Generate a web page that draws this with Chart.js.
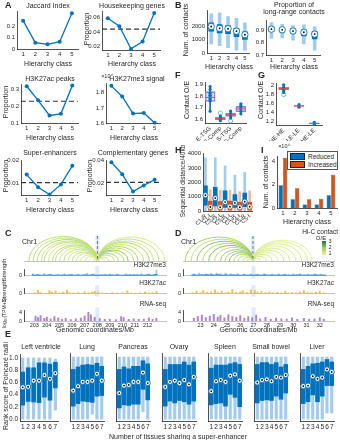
<!DOCTYPE html>
<html>
<head>
<meta charset="utf-8">
<title>Hierarchy classes figure</title>
<script src="https://cdn.jsdelivr.net/npm/chart.js@4.4.1/dist/chart.umd.min.js"></script>
<style>
  html, body { margin: 0; padding: 0; background: #fff; }
  body { position: relative; width: 340px; height: 440px; overflow: hidden; font-family: "Liberation Sans", Arial, sans-serif; color: #262626; }
  canvas { position: absolute; }
  .t { position: absolute; white-space: nowrap; line-height: 1; }
  .lg { position: absolute; border: 0.8px solid #555; background: #fff; font-size: 6.5px; }
  .lg div { display: flex; align-items: center; height: 8px; margin-left: 2px; }
  .lg span { display: inline-block; width: 13px; height: 5px; margin-right: 3px; border: 0.5px solid #222; }
</style>
</head>
<body>
<script>
// ---------- A: line panels ----------
const hierClass = ['1', '2', '3', '4', '5'];
const jaccard = [0.25, 0.056, 0.041, 0.064, 0.315];
const hkProp = [0.059, 0.048, 0.017, 0.027, 0.066];
const hkBase = 0.044;
const acProp = [0.32, 0.236, 0.145, 0.155, 0.325];
const acBase = 0.23;
const me3Sig = [1.845, 1.775, 1.662, 1.666, 1.601];   // x 10^4
const seProp = [0.0139, 0.0084, 0.0052, 0.0096, 0.0177];
const seBase = 0.0104;
const compProp = [0.0385, 0.028, 0.0125, 0.018, 0.023];
const compBase = 0.0207;

// ---------- B: box plots ----------
const cntLo = [690, 550, 410, 210, 200];
const cntQ1 = [1655, 1520, 1450, 1240, 1030];
const cntMed = [2000, 1860, 1830, 1650, 1380];
const cntQ3 = [2275, 2140, 2070, 1860, 1590];
const cntHi = [2965, 3030, 2750, 2620, 2275];
const lrLo = [0.835, 0.84, 0.82, 0.79, 0.74];
const lrQ1 = [0.89, 0.885, 0.875, 0.855, 0.83];
const lrMed = [0.91, 0.905, 0.895, 0.885, 0.87];
const lrQ3 = [0.93, 0.92, 0.915, 0.905, 0.89];
const lrHi = [0.964, 0.95, 0.94, 0.945, 0.93];

// ---------- F / G ----------
const fCats = ['E-TSG', 'E-Comp', 'S-TSG', 'S-Comp'];
const fLo = [1.67, 1.588, 1.612, 1.648];
const fQ1 = [1.755, 1.595, 1.625, 1.665];
const fMed = [1.79, 1.605, 1.64, 1.69];
const fQ3 = [1.84, 1.618, 1.655, 1.712];
const fHi = [1.885, 1.628, 1.672, 1.735];
const fPtCat = [0, 0, 0, 0, 0, 0, 0, 0, 1, 1, 1, 1, 1, 2, 2, 2, 2, 2, 3, 3, 3, 3, 3, 3];
const fPtVal = [1.885, 1.86, 1.83, 1.81, 1.79, 1.775, 1.76, 1.67, 1.588, 1.6, 1.607, 1.615, 1.628,
  1.612, 1.63, 1.64, 1.65, 1.672, 1.648, 1.67, 1.69, 1.7, 1.72, 1.735];
const fOutCat = [0, 0, 1, 2];
const fOutVal = [1.815, 1.795, 1.655, 1.585];

const gCats = ['HE-HE', 'LE-LE', 'HE-LE'];
const gLo = [1.85, 1.52, 1.13];
const gQ1 = [1.905, 1.535, 1.145];
const gMed = [1.935, 1.545, 1.155];
const gQ3 = [1.965, 1.56, 1.17];
const gHi = [2.02, 1.575, 1.18];
const gPtCat = [0, 0, 0, 0, 0, 1, 1, 1, 2, 2, 2];
const gPtVal = [2.02, 1.96, 1.93, 1.9, 1.85, 1.52, 1.55, 1.575, 1.13, 1.155, 1.18];
const gOutCat = [0];
const gOutVal = [1.8];

// ---------- H / I ----------
const hCats = ['C1-R', 'C1-I', 'C2-R', 'C2-I', 'C3-R', 'C3-I', 'C4-R', 'C4-I', 'C5-R', 'C5-I'];
const redLo = [0, 0, 0, 0, 0];
const redQ1 = [400, 350, 250, 250, 300];
const redMed = [1100, 900, 620, 560, 650];
const redQ3 = [1750, 1650, 1400, 1150, 1250];
const redHi = [3700, 3700, 3150, 2500, 2700];
const incLo = [0, 0, 0, 0, 0];
const incQ1 = [60, 60, 60, 60, 60];
const incMed = [280, 260, 300, 260, 300];
const incQ3 = [700, 650, 700, 600, 600];
const incHi = [1500, 1450, 1450, 1350, 1400];
const iReduced = [1.95, 0.75, 0.3, 0.3, 1.1];     // x 10^4
const iIncreased = [4.3, 1.7, 0.75, 0.8, 2.85];

// ---------- C / D tracks ----------
const cTicks = [203, 204, 205, 206, 207, 208, 209, 210, 211, 212];
const dTicks = [23, 24, 25, 26, 27, 28, 29, 30, 31, 32];
const cAnchor = 208, dAnchor = 27;
const cArcLeft = [203.1, 203.4, 203.7, 204.0, 204.2, 204.5, 204.8, 205.0, 205.3, 205.6, 205.9, 206.2, 206.5, 206.8, 207.1, 207.4, 207.7];
const cArcLeftOE = [1.8, 1.6, 1.9, 1.5, 1.7, 1.4, 1.8, 1.6, 1.5, 1.7, 1.4, 1.6, 1.5, 1.4, 1.3, 1.2, 1.2];
const cArcRight = [208.5, 208.8, 209.2, 209.5, 209.9, 210.2, 210.6, 210.9, 211.3, 211.7, 212.0, 212.4, 212.8];
const cArcRightOE = [1.3, 1.5, 1.6, 2.0, 1.8, 2.2, 1.7, 2.0, 1.6, 1.9, 1.5, 1.6, 1.3];
const dArcLeft = [22.4, 22.8, 23.2, 23.6, 24.0, 24.4, 24.8, 25.1, 25.4, 25.7, 26.0, 26.3, 26.6];
const dArcLeftOE = [2.0, 1.7, 2.2, 1.9, 2.3, 1.8, 2.1, 1.9, 2.2, 1.8, 1.7, 1.6, 1.5];
const dArcRight = [27.5, 27.9, 28.3, 28.7, 29.1, 29.5, 29.9, 30.3, 30.7, 31.0];
const dArcRightOE = [1.4, 1.3, 1.5, 1.2, 1.4, 1.3, 1.2, 1.3, 1.2, 1.1];

// H3K27me3 background level, one value per 0.2 Mb bin
const cMe3Start = 202.8, dMe3Start = 22.3, me3Bin = 0.2;
const cMe3Base = [700, 500, 650, 480, 420, 600, 520, 800, 560, 450, 640, 400, 520, 610, 470, 760, 540, 430, 620, 500,
  530, 680, 450, 580, 820, 510, 460, 600, 420, 680, 560, 490, 640, 440, 720, 520, 400, 600, 540, 660, 470, 560, 700,
  430, 610, 520, 800, 610, 500, 950, 720];
const dMe3Base = [520, 700, 480, 600, 820, 560, 900, 640, 720, 500, 860, 610, 540, 700, 480, 640, 760, 520, 600, 450,
  700, 560, 620, 480, 540, 660, 500, 580, 720, 470, 560, 640, 520, 600, 480, 690, 540, 620, 500, 580, 740, 520, 600,
  560, 480, 640, 520, 700, 560, 600, 480, 540];
const cMe3Pos = [202.9, 203.3, 203.8, 204.3, 204.9, 205.4, 206.0, 206.5, 207.2, 207.7, 208.4, 209.0, 209.6, 210.3, 210.9, 211.5, 212.1, 212.7];
const cMe3Val = [1400, 1100, 1700, 1300, 1000, 1500, 1200, 1300, 1900, 1400, 1000, 1500, 1200, 1400, 1100, 1600, 1300, 4300];
const dMe3Pos = [22.5, 22.9, 23.4, 23.8, 24.2, 24.5, 24.9, 25.3, 25.8, 26.3, 26.8, 27.3, 27.8, 28.4, 28.9, 29.4, 30.0, 30.5, 31.1, 31.6, 32.1];
const dMe3Val = [1500, 2000, 1300, 1800, 2100, 1600, 2000, 1400, 1700, 1300, 1500, 1200, 1600, 1300, 1500, 1200, 1400, 1600, 1300, 1500, 1200];

const cAcPos = [203.05, 203.3, 203.5, 203.9, 204.2, 204.4, 204.7, 205.0, 205.3, 205.6, 205.8, 206.1, 206.5, 206.8, 207.0, 207.3,
  207.6, 207.8, 208.1, 208.4, 208.8, 209.2, 209.6, 210.0, 210.4, 210.7, 211.0, 211.4, 211.8, 212.1, 212.4, 212.7];
const cAcVal = [15000, 62000, 20000, 12000, 58000, 30000, 48000, 10000, 32000, 62000, 18000, 12000, 22000, 9000, 35000, 14000,
  25000, 42000, 30000, 12000, 8000, 20000, 10000, 15000, 52000, 12000, 9000, 18000, 28000, 11000, 22000, 45000];
const dAcPos = [22.4, 22.7, 23.0, 23.2, 23.5, 23.8, 24.1, 24.3, 24.6, 24.9, 25.1, 25.4, 25.7, 26.0, 26.2, 26.5, 26.8, 27.1,
  27.3, 27.6, 27.9, 28.2, 28.5, 28.8, 29.1, 29.4, 29.6, 29.9, 30.2, 30.5, 30.8, 31.1, 31.4, 31.7, 32.0, 32.3];
const dAcVal = [20000, 45000, 15000, 60000, 25000, 35000, 70000, 22000, 50000, 18000, 30000, 80000, 26000, 40000, 55000, 20000,
  70000, 60000, 28000, 45000, 20000, 35000, 15000, 25000, 18000, 50000, 12000, 22000, 16000, 30000, 60000, 20000, 14000, 25000, 45000, 18000];

const cRnaPos = [203.1, 203.3, 203.5, 203.8, 204.0, 204.3, 204.6, 204.9, 205.2, 205.5, 205.9, 206.3, 206.7, 207.0, 207.3,
  207.5, 207.8, 208.2, 208.6, 209.0, 209.5, 209.9, 210.1, 210.5, 210.9, 211.3, 211.7, 212.1, 212.4, 212.7];
const cRnaVal = [2.2, 1.5, 2.4, 1.2, 1.8, 1.0, 2.0, 1.4, 0.8, 1.2, 0.6, 1.0, 1.3, 2.2, 3.9, 2.8, 1.6, 1.1, 0.7, 0.9, 0.6,
  2.0, 1.5, 0.8, 1.0, 0.7, 0.9, 1.4, 0.8, 1.2];
const dRnaPos = [22.5, 22.8, 23.1, 23.4, 23.7, 24.0, 24.3, 24.5, 24.8, 25.1, 25.4, 25.7, 26.0, 26.3, 26.6, 26.9, 27.2,
  27.5, 27.9, 28.3, 28.7, 29.1, 29.5, 29.9, 30.3, 30.8, 31.2, 31.6, 32.0, 32.3];
const dRnaVal = [1.2, 2.0, 2.6, 1.5, 2.2, 3.0, 1.8, 2.5, 1.4, 2.8, 2.0, 1.6, 2.4, 1.2, 2.0, 1.5, 2.6, 1.0, 1.6, 0.8, 1.3,
  1.0, 0.9, 1.4, 0.7, 1.2, 0.8, 1.0, 1.5, 0.9];

// ---------- E: rank score per tissue ----------
const tissues = ['Left ventricle', 'Lung', 'Pancreas', 'Ovary', 'Spleen', 'Small bowel', 'Liver'];
const nShared = ['1', '2', '3', '4', '5', '6', '7'];
const eMed = [
  [0.52, 0.53, 0.63, 0.63, 0.72, 0.66, 0.75],
  [0.46, 0.53, 0.60, 0.60, 0.62, 0.73, 0.62],
  [0.42, 0.54, 0.55, 0.60, 0.60, 0.75, 0.58],
  [0.52, 0.60, 0.62, 0.58, 0.63, 0.56, 0.68],
  [0.45, 0.61, 0.63, 0.60, 0.70, 0.72, 0.62],
  [0.59, 0.63, 0.64, 0.61, 0.68, 0.67, 0.71],
  [0.53, 0.54, 0.69, 0.65, 0.67, 0.80, 0.76]];
const eQ1 = [
  [0.23, 0.29, 0.28, 0.27, 0.36, 0.31, 0.51],
  [0.21, 0.25, 0.29, 0.28, 0.27, 0.37, 0.38],
  [0.18, 0.23, 0.22, 0.24, 0.24, 0.48, 0.31],
  [0.21, 0.29, 0.26, 0.30, 0.28, 0.24, 0.29],
  [0.23, 0.25, 0.26, 0.21, 0.40, 0.35, 0.20],
  [0.26, 0.30, 0.31, 0.30, 0.37, 0.32, 0.42],
  [0.25, 0.28, 0.39, 0.28, 0.37, 0.54, 0.54]];
const eQ3 = [
  [0.77, 0.84, 0.84, 0.92, 0.92, 0.90, 0.93],
  [0.80, 0.84, 0.87, 0.88, 0.87, 0.90, 0.85],
  [0.80, 0.84, 0.81, 0.85, 0.85, 0.94, 0.89],
  [0.80, 0.88, 0.88, 0.88, 0.92, 0.87, 0.92],
  [0.82, 0.87, 0.87, 0.87, 0.89, 0.91, 0.88],
  [0.88, 0.91, 0.91, 0.88, 0.91, 0.84, 0.88],
  [0.80, 0.85, 0.89, 0.90, 0.92, 0.96, 0.92]];
const eLo = [
  [0, 0, 0, 0, 0, 0, 0.15],
  [0, 0, 0, 0, 0.08, 0, 0],
  [0, 0, 0, 0, 0, 0.12, 0],
  [0, 0, 0, 0, 0, 0, 0],
  [0, 0, 0, 0, 0, 0, 0],
  [0, 0, 0, 0, 0, 0, 0],
  [0, 0, 0, 0, 0, 0.1, 0.1]];
const eHi = [
  [1, 1, 1, 1, 1, 1, 0.98],
  [1, 1, 1, 1, 1, 1, 1],
  [1, 1, 1, 1, 1, 1, 1],
  [1, 1, 1, 1, 1, 1, 1],
  [1, 1, 1, 1, 1, 1, 1],
  [1, 1, 1, 1, 1, 1, 1],
  [1, 1, 1, 1, 1, 1, 1]];

// ---------- styling ----------
const AX = '#262626';
const BLUE = '#0072BD', LBLUE = '#a3cbec', ORANGE = '#D95319', LORANGE = '#f2b9a0';

Chart.defaults.font.family = '"Liberation Sans", Arial, sans-serif';
Chart.defaults.font.size = 6;
Chart.defaults.color = AX;

function text(s, x, y, o = {}) {
  const d = document.createElement('div');
  d.className = 't';
  d.textContent = s;
  d.style.left = x + 'px';
  d.style.top = y + 'px';
  d.style.fontSize = (o.size || 7) + 'px';
  if (o.bold) d.style.fontWeight = 'bold';
  const ax = o.align === 'left' ? '0' : o.align === 'right' ? '-100%' : '-50%';
  d.style.transform = `translate(${ax}, -50%)` + (o.rot ? ` rotate(${o.rot}deg)` : '');
  document.body.appendChild(d);
  return d;
}

// canvas sized so the chart area lands on the given rect
function place(x0, y0, x1, y1, m) {
  const c = document.createElement('canvas');
  const w = Math.round(x1 - x0 + m.l + m.r);
  const h = Math.round(y1 - y0 + m.t + m.b);
  c.width = w; c.height = h;
  c.style.left = Math.round(x0 - m.l) + 'px';
  c.style.top = Math.round(y0 - m.t) + 'px';
  document.body.appendChild(c);
  return c;
}

function opts(m, scales) {
  return {
    responsive: false, animation: false, events: [],
    layout: { padding: { top: m.t, right: m.r, left: m.pl || 0, bottom: 0 } },
    scales,
    plugins: { legend: { display: false }, tooltip: { enabled: false } }
  };
}

function catX(m, show = true, rot = 0, size = 6) {
  return {
    type: 'category', offset: true,
    afterFit: s => { s.height = m.b; },
    grid: { display: false, drawTicks: false },
    border: { display: true, color: AX, width: 0.8 },
    ticks: { display: show, padding: 2, autoSkip: false, maxRotation: rot, minRotation: rot, font: { size } }
  };
}

const fmtNum = v => String(+(+v).toFixed(4));
function linY(m, min, max, ticks, show = true, fmt = fmtNum, size = 6) {
  return {
    type: 'linear', min, max,
    afterFit: s => { s.width = m.l; },
    afterBuildTicks: s => { s.ticks = ticks.map(v => ({ value: v })); },
    grid: { display: false, drawTicks: false },
    border: { display: true, color: AX, width: 0.8 },
    ticks: { display: show, padding: 2, font: { size }, callback: fmt }
  };
}

function refLine(v) {
  return {
    id: 'refLine',
    beforeDatasetsDraw(ch) {
      const { ctx, chartArea: a, scales: { y } } = ch;
      const py = y.getPixelForValue(v);
      ctx.save();
      ctx.strokeStyle = '#333';
      ctx.lineWidth = 1.1;
      ctx.setLineDash([5, 3]);
      ctx.beginPath(); ctx.moveTo(a.left, py); ctx.lineTo(a.right, py); ctx.stroke();
      ctx.restore();
    }
  };
}

function lineChart(rect, m, vals, min, max, ticks, base) {
  const c = place(...rect, m);
  new Chart(c, {
    type: 'line',
    data: { labels: hierClass, datasets: [{ data: vals, borderColor: BLUE, backgroundColor: BLUE, borderWidth: 1.3, pointRadius: 2, pointBorderWidth: 0, tension: 0, clip: false }] },
    options: opts(m, { x: catX(m), y: linY(m, min, max, ticks) }),
    plugins: base == null ? [] : [refLine(base)]
  });
}

const pair = (a, b) => a.map((v, i) => v == null ? null : [v, b[i]]);
function boxSets(lo, q1, med, q3, hi, st) {
  return [
    { type: 'bar', data: pair(lo, hi), backgroundColor: st.light, barThickness: st.w, grouped: false, order: 4 },
    { type: 'bar', data: pair(q1, q3), backgroundColor: st.dark, barThickness: st.b, grouped: false, order: 3 },
    { type: 'line', data: med, showLine: false, pointRadius: st.r, pointBackgroundColor: '#fff', pointBorderColor: st.dark, pointBorderWidth: 0.9, order: 2, clip: false },
    { type: 'line', data: med, showLine: false, pointRadius: 0.9, pointBackgroundColor: '#000', pointBorderWidth: 0, order: 1, clip: false }
  ];
}

function dotBoxSets(cats, lo, q1, med, q3, hi, ptCat, ptVal, outCat, outVal) {
  return [
    { type: 'bar', data: pair(lo, hi), backgroundColor: BLUE, barThickness: 1, grouped: false, order: 5 },
    { type: 'bar', data: pair(q1, q3), backgroundColor: 'rgba(150,135,235,0.12)', borderColor: '#8f7fe6', borderWidth: 1, borderSkipped: false, barThickness: 10, grouped: false, order: 4 },
    { type: 'line', data: med, showLine: false, pointStyle: 'line', pointRadius: 5, pointBorderColor: '#e8464f', pointBorderWidth: 1, order: 1 },
    { type: 'line', data: ptVal.map((v, i) => ({ x: cats[ptCat[i]], y: v })), showLine: false, pointRadius: 1.6, pointBackgroundColor: BLUE, pointBorderWidth: 0, order: 2, clip: false },
    { type: 'line', data: outVal.map((v, i) => ({ x: cats[outCat[i]], y: v })), showLine: false, pointRadius: 2, pointBackgroundColor: 'rgba(0,0,0,0)', pointBorderColor: '#4ea6e0', pointBorderWidth: 0.8, order: 3, clip: false }
  ];
}

// ===== A =====
lineChart([17, 8, 80, 49], { l: 14, r: 2, t: 2, b: 9 }, jaccard, 0, 0.33, [0, 0.1, 0.2]);
lineChart([102, 8, 162, 50], { l: 15, r: 2, t: 2, b: 9 }, hkProp, 0.0155, 0.068, [0.02, 0.04, 0.06], hkBase);
lineChart([21, 81, 80, 123], { l: 14, r: 2, t: 2, b: 9 }, acProp, 0.1, 0.33, [0.1, 0.2, 0.3], acBase);
lineChart([106, 80, 162, 123], { l: 14, r: 2, t: 2, b: 9 }, me3Sig, 1.6, 1.86, [1.6, 1.7, 1.8]);
lineChart([21, 157, 80, 195], { l: 15, r: 2, t: 2, b: 9 }, seProp, 0.005, 0.02, [0.01, 0.02], seBase);
lineChart([106, 157, 162, 195], { l: 15, r: 2, t: 2, b: 9 }, compProp, 0.0095, 0.04, [0.02, 0.04], compBase);

text('Jaccard Index', 48, 5);
text('Housekeeping genes', 132, 5);
text('H3K27ac peaks', 50, 78);
text('H3K27me3 signal', 137, 78);
text('×10⁴', 107, 77, { size: 5.5 });
text('Super-enhancers', 50, 152);
text('Complementary genes', 133, 152);
[[48, 63], [132, 63], [50, 137], [134, 137], [50, 209], [134, 209]].forEach(p => text('Hierarchy class', p[0], p[1]));
[[86, 29], [5, 102], [5, 176], [89, 176]].forEach(p => text('Proportion', p[0], p[1], { rot: -90 }));

// ===== B =====
{
  const m1 = { l: 16, r: 2, t: 2, b: 9 };
  new Chart(place(207, 7, 252, 53, m1), {
    type: 'bar',
    data: { labels: hierClass, datasets: boxSets(cntLo, cntQ1, cntMed, cntQ3, cntHi, { light: LBLUE, dark: BLUE, w: 3, b: 5, r: 3.2 }) },
    options: opts(m1, { x: catX(m1), y: linY(m1, 0, 3200, [0, 1000, 2000]) })
  });
  const m2 = { l: 13, r: 2, t: 2, b: 9 };
  new Chart(place(266, 17, 323, 55, m2), {
    type: 'bar',
    data: { labels: hierClass, datasets: boxSets(lrLo, lrQ1, lrMed, lrQ3, lrHi, { light: LBLUE, dark: BLUE, w: 3, b: 5, r: 3.2 }) },
    options: opts(m2, { x: catX(m2), y: linY(m2, 0.7, 0.98, [0.7, 0.8, 0.9]) })
  });
  text('Num. of contacts', 185, 30, { rot: -90 });
  text('Hierarchy class', 229, 66);
  text('Hierarchy class', 294, 66);
  text('Proportion of', 294, 4);
  text('long-range contacts', 294, 11);
}

// ===== F / G =====
{
  const mf = { l: 14, r: 2, t: 2, b: 18 };
  new Chart(place(205, 78, 250, 123, mf), {
    type: 'bar',
    data: { labels: fCats, datasets: dotBoxSets(fCats, fLo, fQ1, fMed, fQ3, fHi, fPtCat, fPtVal, fOutCat, fOutVal) },
    options: opts(mf, { x: catX(mf, true, 45, 6), y: linY(mf, 1.568, 1.924, [1.6, 1.7, 1.8, 1.9]) })
  });
  text('Contact O/E', 186, 100, { rot: -90 });
  const mg = { l: 10, r: 2, t: 2, b: 16 };
  new Chart(place(276, 79, 326, 125, mg), {
    type: 'bar',
    data: { labels: gCats, datasets: dotBoxSets(gCats, gLo, gQ1, gMed, gQ3, gHi, gPtCat, gPtVal, gOutCat, gOutVal) },
    options: opts(mg, { x: catX(mg, true, 45, 6), y: linY(mg, 1.12, 2.06, [1.2, 1.4, 1.6, 1.8, 2]) })
  });
  text('Contact O/E', 260, 100, { rot: -90 });
}

// ===== H / I =====
{
  const onBlue = a => a.flatMap(v => [v, null]);
  const onOrange = a => a.flatMap(v => [null, v]);
  const mh = { l: 16, r: 1, t: 3, b: 14 };
  new Chart(place(203, 151, 256, 211, mh), {
    type: 'bar',
    data: {
      labels: hCats,
      datasets: [
        ...boxSets(onBlue(redLo), onBlue(redQ1), onBlue(redMed), onBlue(redQ3), onBlue(redHi), { light: LBLUE, dark: BLUE, w: 2, b: 4, r: 2.6 }),
        ...boxSets(onOrange(incLo), onOrange(incQ1), onOrange(incMed), onOrange(incQ3), onOrange(incHi), { light: LORANGE, dark: ORANGE, w: 2, b: 4, r: 2.6 })
      ]
    },
    options: opts(mh, { x: catX(mh, true, 45, 5.5), y: linY(mh, 0, 4000, [0, 1000, 2000, 3000, 4000]) })
  });
  text('Sequential distance/40kb', 183, 181, { rot: -90, size: 6.5 });

  const mi = { l: 7, r: 2, t: 2, b: 9 };
  new Chart(place(277, 153, 337, 208, mi), {
    type: 'bar',
    data: {
      labels: hierClass,
      datasets: [
        { label: 'Reduced', data: iReduced, backgroundColor: BLUE, borderColor: '#1a1a1a', borderWidth: 0.5, categoryPercentage: 0.75, barPercentage: 0.95 },
        { label: 'Increased', data: iIncreased, backgroundColor: ORANGE, borderColor: '#1a1a1a', borderWidth: 0.5, categoryPercentage: 0.75, barPercentage: 0.95 }
      ]
    },
    options: opts(mi, { x: catX(mi), y: linY(mi, 0, 4.4, [0, 2, 4]) })
  });
  text('×10⁴', 284, 147, { size: 5.5 });
  text('Num. of contacts', 265, 182, { rot: -90 });
  text('Hierarchy class', 307, 221);
  const lg = document.createElement('div');
  lg.className = 'lg';
  Object.assign(lg.style, { left: '287px', top: '151px', width: '49px', height: '17px' });
  lg.innerHTML = `<div><span style="background:${BLUE}"></span>Reduced</div><div><span style="background:${ORANGE}"></span>Increased</div>`;
  document.body.appendChild(lg);
}

// ===== C / D =====
function oeColor(v) {
  const stops = [[1, [236, 243, 150]], [2, [160, 208, 90]], [3, [25, 115, 70]]];
  const t = Math.min(3, Math.max(1, v));
  const k = t < 2 ? 0 : 1;
  const f = t - stops[k][0];
  const c = stops[k][1].map((a, j) => Math.round(a + (stops[k + 1][1][j] - a) * f));
  return `rgb(${c[0]},${c[1]},${c[2]})`;
}

function band(anchor) {
  return {
    id: 'band',
    beforeDatasetsDraw(ch) {
      const { ctx, chartArea: a, scales: { x } } = ch;
      const px = x.getPixelForValue(anchor);
      ctx.save();
      ctx.fillStyle = 'rgba(110,165,230,0.22)';
      ctx.fillRect(px - 2, a.top - 3, 4, a.bottom - a.top + 6);
      ctx.restore();
    }
  };
}

function arcs(anchor, left, leftOE, right, rightOE) {
  return {
    id: 'arcs',
    afterDatasetsDraw(ch) {
      const { ctx, chartArea: a, scales: { x, y } } = ch;
      const base = y.getPixelForValue(0);
      const draw = (p, q, oe) => {
        const xa = x.getPixelForValue(p), xb = x.getPixelForValue(q);
        const h = base - y.getPixelForValue(q - p);
        ctx.beginPath();
        ctx.ellipse((xa + xb) / 2, base, (xb - xa) / 2, h, 0, Math.PI, 2 * Math.PI);
        ctx.strokeStyle = oeColor(oe);
        ctx.stroke();
      };
      ctx.save();
      ctx.lineWidth = 0.9;
      left.forEach((p, i) => draw(p, anchor, leftOE[i]));
      right.forEach((q, i) => draw(anchor, q, rightOE[i]));
      const px = x.getPixelForValue(anchor);
      ctx.strokeStyle = '#666';
      ctx.setLineDash([3, 2]);
      ctx.beginPath(); ctx.moveTo(px, a.top); ctx.lineTo(px, a.bottom); ctx.stroke();
      ctx.restore();
    }
  };
}

function genomeX(m, range, ticks, show) {
  return {
    type: 'linear', min: range[0], max: range[1],
    afterFit: s => { s.height = m.b; },
    afterBuildTicks: s => { s.ticks = ticks.map(v => ({ value: v })); },
    grid: { display: false, drawTicks: false },
    border: { display: true, color: '#999', width: 0.6 },
    ticks: { display: show, padding: 1.5, maxRotation: 0, font: { size: 5.5 }, callback: v => String(v) }
  };
}

const spikes = (pos, val, color) => ({ type: 'bar', data: pos.map((p, i) => ({ x: p, y: val[i] })), backgroundColor: color, barThickness: 1.3, order: 2 });

function genomePanel(x0, x1, range, ticks, anchor, arcL, arcLOE, arcR, arcROE, arcMax, me3Start, me3Base, me3Pos, me3Val, acPos, acVal, rnaPos, rnaVal) {
  const ma = { l: 0, r: 1, t: 0, b: 1 };
  new Chart(place(x0, 236, x1, 261, ma), {
    type: 'scatter',
    data: { datasets: [{ data: [] }] },
    options: opts(ma, { x: genomeX(ma, range, ticks, false), y: { display: false, min: 0, max: arcMax } }),
    plugins: [band(anchor), arcs(anchor, arcL, arcLOE, arcR, arcROE)]
  });

  const m1 = { l: 16, r: 1, t: 1, b: 1 };
  new Chart(place(x0, 265, x1, 280, m1), {
    type: 'bar',
    data: {
      datasets: [
        { type: 'line', data: me3Base.map((v, i) => ({ x: me3Start + me3Bin * i, y: v })), borderColor: BLUE, backgroundColor: 'rgba(0,114,189,0.85)', borderWidth: 0.6, pointRadius: 0, fill: 'origin', tension: 0, order: 1 },
        spikes(me3Pos, me3Val, LBLUE)
      ]
    },
    options: opts(m1, { x: genomeX(m1, range, ticks, false), y: linY(m1, 0, 5000, [0, 4000], true, fmtNum, 5.5) }),
    plugins: [band(anchor)]
  });

  const m2 = { l: 18, r: 1, t: 1, b: 1 };
  new Chart(place(x0, 284, x1, 298, m2), {
    type: 'bar',
    data: { datasets: [spikes(acPos, acVal, 'rgba(237,177,32,0.8)')] },
    options: opts(m2, { x: genomeX(m2, range, ticks, false), y: linY(m2, 0, 100000, [0, 40000, 80000], true, fmtNum, 5.5) }),
    plugins: [band(anchor)]
  });

  const m3 = { l: 8, r: 1, t: 1, b: 8 };
  new Chart(place(x0, 306, x1, 321, m3), {
    type: 'bar',
    data: { datasets: [spikes(rnaPos, rnaVal, 'rgba(160,110,190,0.85)')] },
    options: opts(m3, { x: genomeX(m3, range, ticks, true), y: linY(m3, 0, 4.8, [0, 2, 4], true, fmtNum, 5.5) }),
    plugins: [band(anchor)]
  });

  text('H3K27me3', x1, 265, { align: 'right', size: 6.5 });
  text('H3K27ac', x1, 283, { align: 'right', size: 6.5 });
  text('RNA-seq', x1, 304, { align: 'right', size: 6.5 });
  text('Chr1', x0 - 2, 241, { align: 'left', size: 7 });
  text('Genomic coordinates/Mb', (x0 + x1) / 2, 329, { size: 7 });
}

genomePanel(24, 166, [202.75, 212.9], cTicks, cAnchor, cArcLeft, cArcLeftOE, cArcRight, cArcRightOE, 5.0,
  cMe3Start, cMe3Base, cMe3Pos, cMe3Val, cAcPos, cAcVal, cRnaPos, cRnaVal);
genomePanel(183, 334, [22.25, 32.5], dTicks, dAnchor, dArcLeft, dArcLeftOE, dArcRight, dArcRightOE, 4.8,
  dMe3Start, dMe3Base, dMe3Pos, dMe3Val, dAcPos, dAcVal, dRnaPos, dRnaVal);

text('Strength', 4, 270, { rot: -90, size: 6 });
text('Strength', 4, 291, { rot: -90, size: 6 });
text('log₁₀(TPM+1)', 4, 313, { rot: -90, size: 5 });

// Hi-C colour bar
text('Hi-C contact', 338, 232, { align: 'right', size: 6.5 });
text('O/E', 321, 238, { size: 6 });
{
  const cb = document.createElement('div');
  Object.assign(cb.style, { position: 'absolute', left: '322px', top: '241px', width: '4px', height: '14px', background: `linear-gradient(to top, ${oeColor(1)}, ${oeColor(2)}, ${oeColor(3)})` });
  document.body.appendChild(cb);
  text('3', 330, 242, { size: 5.5 });
  text('2', 330, 248, { size: 5.5 });
  text('1', 330, 254, { size: 5.5 });
}

// ===== E =====
tissues.forEach((name, k) => {
  const x0 = 20 + 46 * k, x1 = x0 + 42;
  const m = { l: k === 0 ? 14 : 0, r: 1, t: 2, b: 9 };
  new Chart(place(x0, 351, x1, 421, m), {
    type: 'bar',
    data: { labels: nShared, datasets: boxSets(eLo[k], eQ1[k], eMed[k], eQ3[k], eHi[k], { light: LBLUE, dark: BLUE, w: 2.5, b: 4, r: 2.6 }) },
    options: opts(m, { x: catX(m, true, 0, 6.5), y: linY(m, -0.03, 1.05, [0, 0.2, 0.4, 0.6, 0.8, 1], k === 0, v => (+v).toFixed(1), 6.5) })
  });
  text(name, (x0 + x1) / 2, 346, { size: 7 });
});
text('Rank score of Poincaré radii', 5, 386, { rot: -90, size: 7 });
text('Number of tissues sharing a super-enhancer', 178, 436, { size: 7 });

// panel letters
[['A', 5, 5], ['B', 175, 5], ['F', 175, 75], ['G', 258, 75], ['H', 175, 150], ['I', 261, 150], ['C', 5, 233], ['D', 175, 233], ['E', 5, 334]]
  .forEach(p => text(p[0], p[1], p[2], { size: 9, bold: true, align: 'left' }));
</script>
</body>
</html>
